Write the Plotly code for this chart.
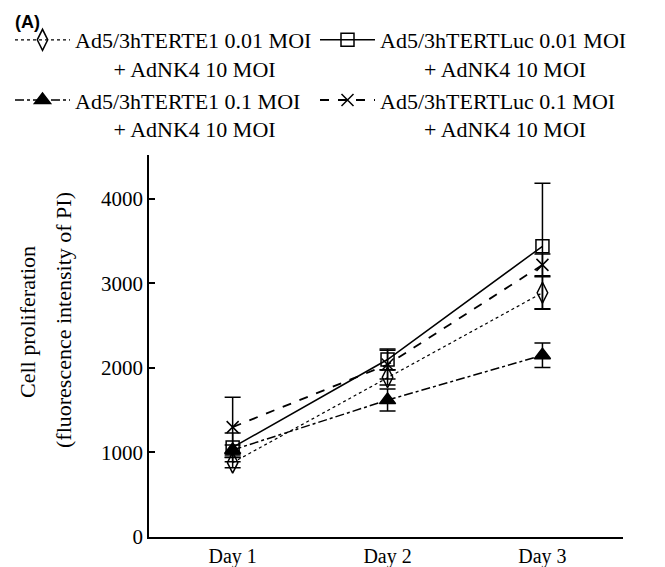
import plotly.graph_objects as go

days = ["Day 1", "Day 2", "Day 3"]

names = [
    "Ad5/3hTERTE1 0.01 MOI",
    "Ad5/3hTERTLuc 0.01 MOI",
    "Ad5/3hTERTE1 0.1 MOI",
    "Ad5/3hTERTLuc 0.1 MOI",
]
second_line = "+ AdNK4 10 MOI"

e1_low = [880, 1890, 2890]
e1_low_err = [60, 90, 190]
luc_low = [1060, 2100, 3440]
luc_low_err = [170, 125, 745]
e1_high = [1030, 1620, 2150]
e1_high_err = [60, 130, 145]
luc_high = [1300, 2040, 3220]
luc_high_err = [355, 170, 130]

y_ticks = [0, 1000, 2000, 3000, 4000]

# name, values, errors, dash, line width, symbol, size, legend, pad
series = [
    (names[0], e1_low, e1_low_err, "dot", 1.2, "diamond-tall-open", 15, "legend", 7),
    (names[1], luc_low, luc_low_err, "solid", 1.5, "square-open", 13, "legend2", 8),
    (names[2], e1_high, e1_high_err, "dashdot", 1.5, "triangle-up", 14, "legend", 7),
    (names[3], luc_high, luc_high_err, "dash", 1.8, "x-thin-open", 12, "legend2", 8),
]

serif = "Liberation Serif"

L, R, T, B = 149, 42, 155, 30
W, H = 665, 567
pw, ph = W - L - R, H - T - B


def px_x(p):
    return (p - L) / pw


def px_y(p):
    return (H - B - p) / ph


fig = go.Figure()
for nm, ys, err, dash, lw, sym, ms, lg, npad in series:
    fig.add_trace(go.Scatter(
        x=days, y=ys, name=nm + "<br>" + "\u00a0" * npad + second_line,
        legend=lg,
        mode="lines+markers",
        line=dict(color="black", width=lw, dash=dash),
        marker=dict(symbol=sym, size=ms, color="black",
                    line=dict(color="black", width=1.5)),
        error_y=dict(type="data", array=err, visible=True,
                     color="black", thickness=1.5, width=8),
    ))

legend_common = dict(
    orientation="v", xanchor="left", yanchor="top",
    itemwidth=55, valign="top",
    font=dict(family=serif, size=22, color="black"),
    bgcolor="rgba(0,0,0,0)", tracegroupgap=0,
)

fig.update_layout(
    width=W, height=H,
    margin=dict(l=L, r=R, t=T, b=B, autoexpand=False),
    paper_bgcolor="white", plot_bgcolor="white",
    font=dict(family=serif, color="black", size=20),
    showlegend=True,
    legend=dict(x=px_x(10), y=px_y(19), **legend_common),
    legend2=dict(x=px_x(315), y=px_y(19), **legend_common),
    xaxis=dict(
        type="category", range=[-0.54, 2.52],
        showline=True, linecolor="black", linewidth=1.5,
        ticks="", showgrid=False, zeroline=False,
        tickfont=dict(family=serif, size=20),
    ),
    yaxis=dict(
        range=[0, 4520], tickvals=y_ticks,
        showline=True, linecolor="black", linewidth=1.5,
        ticks="inside", ticklen=6, tickwidth=1.5, tickcolor="black",
        showgrid=False, zeroline=False,
        tickfont=dict(family=serif, size=21),
    ),
    annotations=[
        dict(text="<b>(A)</b>", xref="paper", yref="paper",
             x=px_x(13), y=px_y(22),
             xanchor="left", yanchor="middle", showarrow=False,
             font=dict(family="Liberation Sans", size=18, color="black"),
             ),
        dict(text="Cell proliferation",
             xref="paper", yref="paper",
             x=px_x(27), y=px_y(322),
             xanchor="center", yanchor="middle", showarrow=False,
             textangle=-90,
             font=dict(family=serif, size=22, color="black")),
        dict(text="(fluorescence intensity of PI)",
             xref="paper", yref="paper",
             x=px_x(63), y=px_y(320),
             xanchor="center", yanchor="middle", showarrow=False,
             textangle=-90,
             font=dict(family=serif, size=22, color="black")),
    ],
)

fig.write_html("out.html")
